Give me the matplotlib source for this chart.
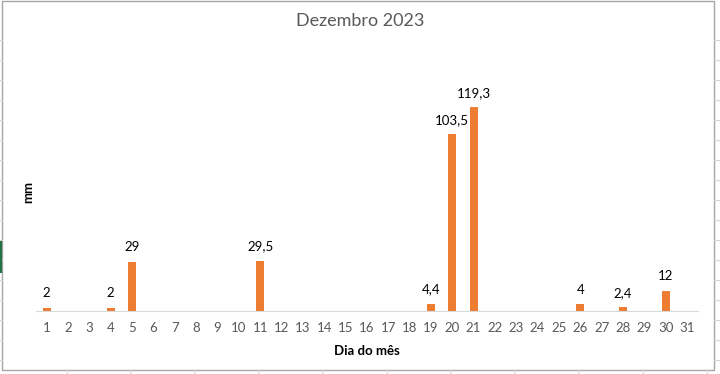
import matplotlib.pyplot as plt
from matplotlib.lines import Line2D
from matplotlib.patches import Rectangle

plt.rcParams['font.family'] = ['Lato', 'DejaVu Sans']

days = list(range(1, 32))
rain_days = [1, 4, 5, 11, 19, 20, 21, 26, 28, 30]
rain_mm = [2, 2, 29, 29.5, 4.4, 103.5, 119.3, 4, 2.4, 12]

values = [0.0] * len(days)
for d, v in zip(rain_days, rain_mm):
    values[d - 1] = v

fig = plt.figure(figsize=(7.2, 3.74), dpi=100)
ax = fig.add_axes([0.05, 0.168, 0.919, 0.685])

ax.bar(days, values, width=0.38, color='#ED7D31', zorder=2)

for d, v in zip(rain_days, rain_mm):
    lbl = ('%g' % v).replace('.', ',')
    ax.annotate(lbl, (d, v), xytext=(0, 6), textcoords='offset points',
                ha='center', va='bottom', fontsize=9.5, color='black')

ax.set_xlim(0.5, 31.5)
ax.set_ylim(0, 150)
ax.set_xticks(days)
ax.set_xticklabels([str(d) for d in days])
ax.set_yticks([])
ax.tick_params(axis='x', length=0, labelsize=9.5, labelcolor='#595959', pad=8)
for s in ['top', 'right', 'left']:
    ax.spines[s].set_visible(False)
ax.spines['bottom'].set_color('#D9D9D9')

ax.set_xlabel('Dia do mês', fontsize=9.5, fontweight='bold', color='black', labelpad=8)
ax.set_ylabel('mm', fontsize=9.5, fontweight='bold', color='black')
ax.yaxis.set_label_coords(-0.003, 0.465)
fig.suptitle('Dezembro 2023', y=0.965, fontsize=13, color='#595959')

# spreadsheet background around the chart
for x in [67, 130, 194, 258, 322, 387, 450, 514, 578, 643, 707]:
    fig.add_artist(Line2D([x / 720, x / 720], [0, 4 / 374], color='#D4D4D4', lw=0.8))
for y in [40, 60, 80, 100, 120, 140, 160, 180, 200, 220, 240, 260, 280, 300, 320, 340, 360]:
    yy = 1 - y / 374
    fig.add_artist(Line2D([0, 2 / 720], [yy, yy], color='#D4D4D4', lw=0.8))
    fig.add_artist(Line2D([714 / 720, 1], [yy, yy], color='#D4D4D4', lw=0.8))
fig.add_artist(Rectangle((2 / 720, 4 / 374), 712 / 720, 369 / 374, fill=False,
                         edgecolor='#A6A6A6', lw=1.0))
fig.add_artist(Line2D([1 / 720, 1 / 720], [1 - 272 / 374, 1 - 242 / 374], color='#217346', lw=1.5))

fig.savefig('out.png', dpi=100)
